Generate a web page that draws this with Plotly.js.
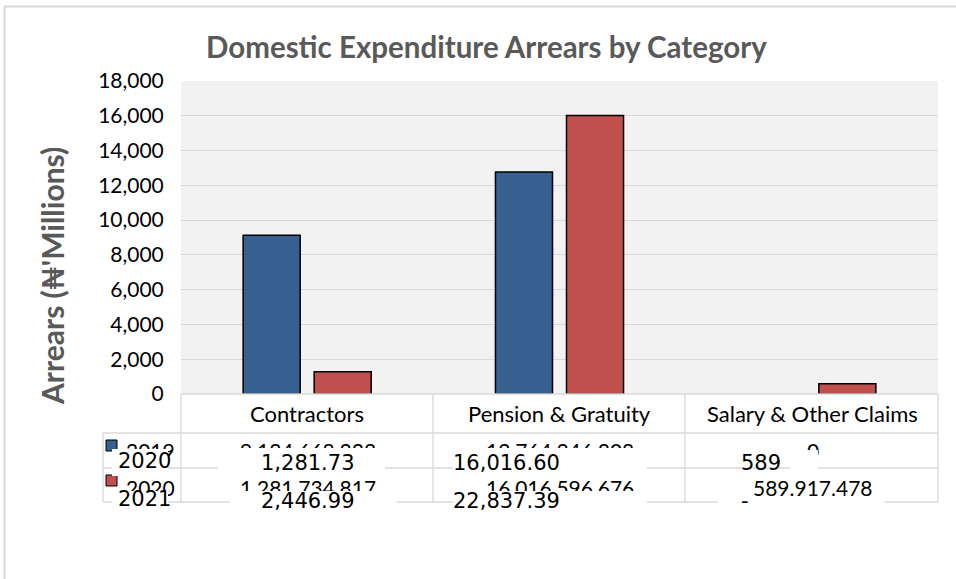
<!DOCTYPE html>
<html>
<head>
<meta charset="utf-8">
<script src="https://cdn.plot.ly/plotly-3.0.1.min.js"></script>
<style>html,body{margin:0;padding:0;background:#fff;}#chart{width:956px;height:579px;}</style>
</head>
<body>
<div id="chart"></div>
<script>
// ---- data ----
const categories = ['Contractors', 'Pension & Gratuity', 'Salary & Other Claims'];
const seriesNames = ['2019', '2020'];
const values2019 = [9124.668, 12764.346, 0];
const values2020 = [1281.735, 16016.597, 589.917];
const tableRow1 = ['9,124,668,333', '12,764,346,308', '0'];
const tableRow2 = ['1,281,734,817', '16,016,596,676', '589.917.478'];
const overlayYears = ['2020', '2021'];
const overlayRow1 = ['1,281.73', '16,016.60', '589'];
const overlayRow2 = ['2,446.99', '22,837.39', '-'];
const yTickVals = [0, 2000, 4000, 6000, 8000, 10000, 12000, 14000, 16000, 18000];

// ---- geometry helpers (pixel -> paper) ----
const L = 181, R = 938, T = 81, B = 394;
const px = x => (x - L) / (R - L);
const py = y => (B - y) / (B - T);
const catCenters = [307, 559, 812];

const BLUE = '#35608f', RED = '#c0504d', GRID = '#d9d9d9';

const traces = [
  {type: 'bar', name: seriesNames[0], x: categories, y: values2019,
   marker: {color: BLUE, line: {color: '#000', width: [1.5, 1.5, 0]}}},
  {type: 'bar', name: seriesNames[1], x: categories, y: values2020,
   marker: {color: RED, line: {color: '#000', width: 1.5}}}
];

const shapes = [];
function hline(y, x0, x1, c) { shapes.push({type: 'line', xref: 'paper', yref: 'paper', x0: px(x0), x1: px(x1), y0: py(y), y1: py(y), line: {color: c || GRID, width: 1.3}, layer: 'above'}); }
function vline(x, y0, y1, c) { shapes.push({type: 'line', xref: 'paper', yref: 'paper', x0: px(x), x1: px(x), y0: py(y0), y1: py(y1), line: {color: c || GRID, width: 1.3}, layer: 'above'}); }
// outer chart border
shapes.push({type: 'rect', xref: 'paper', yref: 'paper', x0: px(4.5), x1: px(970), y0: py(6.5), y1: py(600), line: {color: '#d9d9d9', width: 2}, layer: 'below'});
// data table grid
hline(394, 181, 938);
hline(433, 103, 938);
hline(468, 103, 938);
hline(502, 103, 938);
vline(103, 433, 502);
[181, 433, 685, 938].forEach(x => vline(x, 394, 502));
// legend keys
shapes.push({type: 'rect', xref: 'paper', yref: 'paper', x0: px(106), x1: px(117), y0: py(440), y1: py(451), fillcolor: BLUE, line: {color: '#000', width: 1}, layer: 'above'});
shapes.push({type: 'rect', xref: 'paper', yref: 'paper', x0: px(106), x1: px(117), y0: py(475), y1: py(486), fillcolor: RED, line: {color: '#000', width: 1}, layer: 'above'});

const ann = [];
const baseFont = {family: 'Lato, "DejaVu Sans", sans-serif', size: 22, color: '#000'};
const tblFont = {family: 'Lato, "DejaVu Sans", sans-serif', size: 21, color: '#000'};
function txt(t, x, y, xa, font, extra) {
  ann.push(Object.assign({text: t, xref: 'paper', yref: 'paper', x: px(x), y: py(y), xanchor: xa || 'center', yanchor: 'middle', showarrow: false, font: font || baseFont}, extra || {}));
}
// title
txt('<b>Domestic Expenditure Arrears by Category</b>', 486, 47, 'center', {family: 'Lato, sans-serif', size: 29.5, color: '#595959'});
// y title
txt('<b>Arrears (₦\'Millions)</b>', 52, 276, 'center', {family: 'Lato, "DejaVu Sans", sans-serif', size: 30, color: '#595959'}, {textangle: -90});
// category header
categories.forEach((c, i) => txt(c, catCenters[i], 413, 'center', baseFont));
// underlying table text
txt(seriesNames[0], 124, 450, 'left', tblFont);
txt(seriesNames[1], 124, 487, 'left', tblFont);
tableRow1.forEach((t, i) => txt(t, catCenters[i] + 1, 450, 'center', tblFont));
tableRow2.forEach((t, i) => txt(t, catCenters[i] + 1, 487, 'center', tblFont));
// white cover boxes
function box(x0, x1, y0, y1) {
  ann.push({text: ' ', xref: 'paper', yref: 'paper', x: px(x0), y: py(y0), xanchor: 'left', yanchor: 'top', width: x1 - x0, height: y1 - y0, bgcolor: '#ffffff', borderpad: 0, borderwidth: 0, showarrow: false});
}
box(112, 168, 449, 476);
box(218, 385, 448, 476);
box(453, 647, 448, 476);
box(790, 818, 450, 472);
box(112, 168, 491, 514);
box(230, 397, 491, 514);
box(453, 647, 491, 514);
box(718, 885, 497, 514);
// overlay text
const ovFont = {family: '"DejaVu Sans", sans-serif', size: 21, color: '#000'};
txt(overlayYears[0], 116, 461, 'left', ovFont);
txt(overlayYears[1], 116, 499, 'left', ovFont);
const ovX = [308, 506, 761];
overlayRow1.forEach((t, i) => txt(t, ovX[i], 463, 'center', ovFont));
overlayRow2.forEach((t, i) => txt(t, i === 2 ? 745 : ovX[i], 501, 'center', ovFont));

const layout = {
  width: 956, height: 579,
  margin: {l: L, r: 956 - R, t: T, b: 579 - B},
  paper_bgcolor: '#ffffff',
  plot_bgcolor: '#f2f2f2',
  showlegend: false,
  barmode: 'group',
  bargap: 0.437,
  bargroupgap: 0.197,
  xaxis: {showticklabels: false, showgrid: false, zeroline: false, showline: false, ticks: ''},
  yaxis: {range: [0, 18000], tickvals: yTickVals, tickformat: ',', showgrid: true, gridcolor: GRID, gridwidth: 1,
          zeroline: false, showline: false, ticks: 'outside', ticklen: 12, tickcolor: 'rgba(0,0,0,0)',
          tickfont: {family: 'Lato, sans-serif', size: 21, color: '#000'}},
  shapes: shapes,
  annotations: ann
};

Plotly.newPlot('chart', traces, layout, {displayModeBar: false, staticPlot: true});
</script>
</body>
</html>
